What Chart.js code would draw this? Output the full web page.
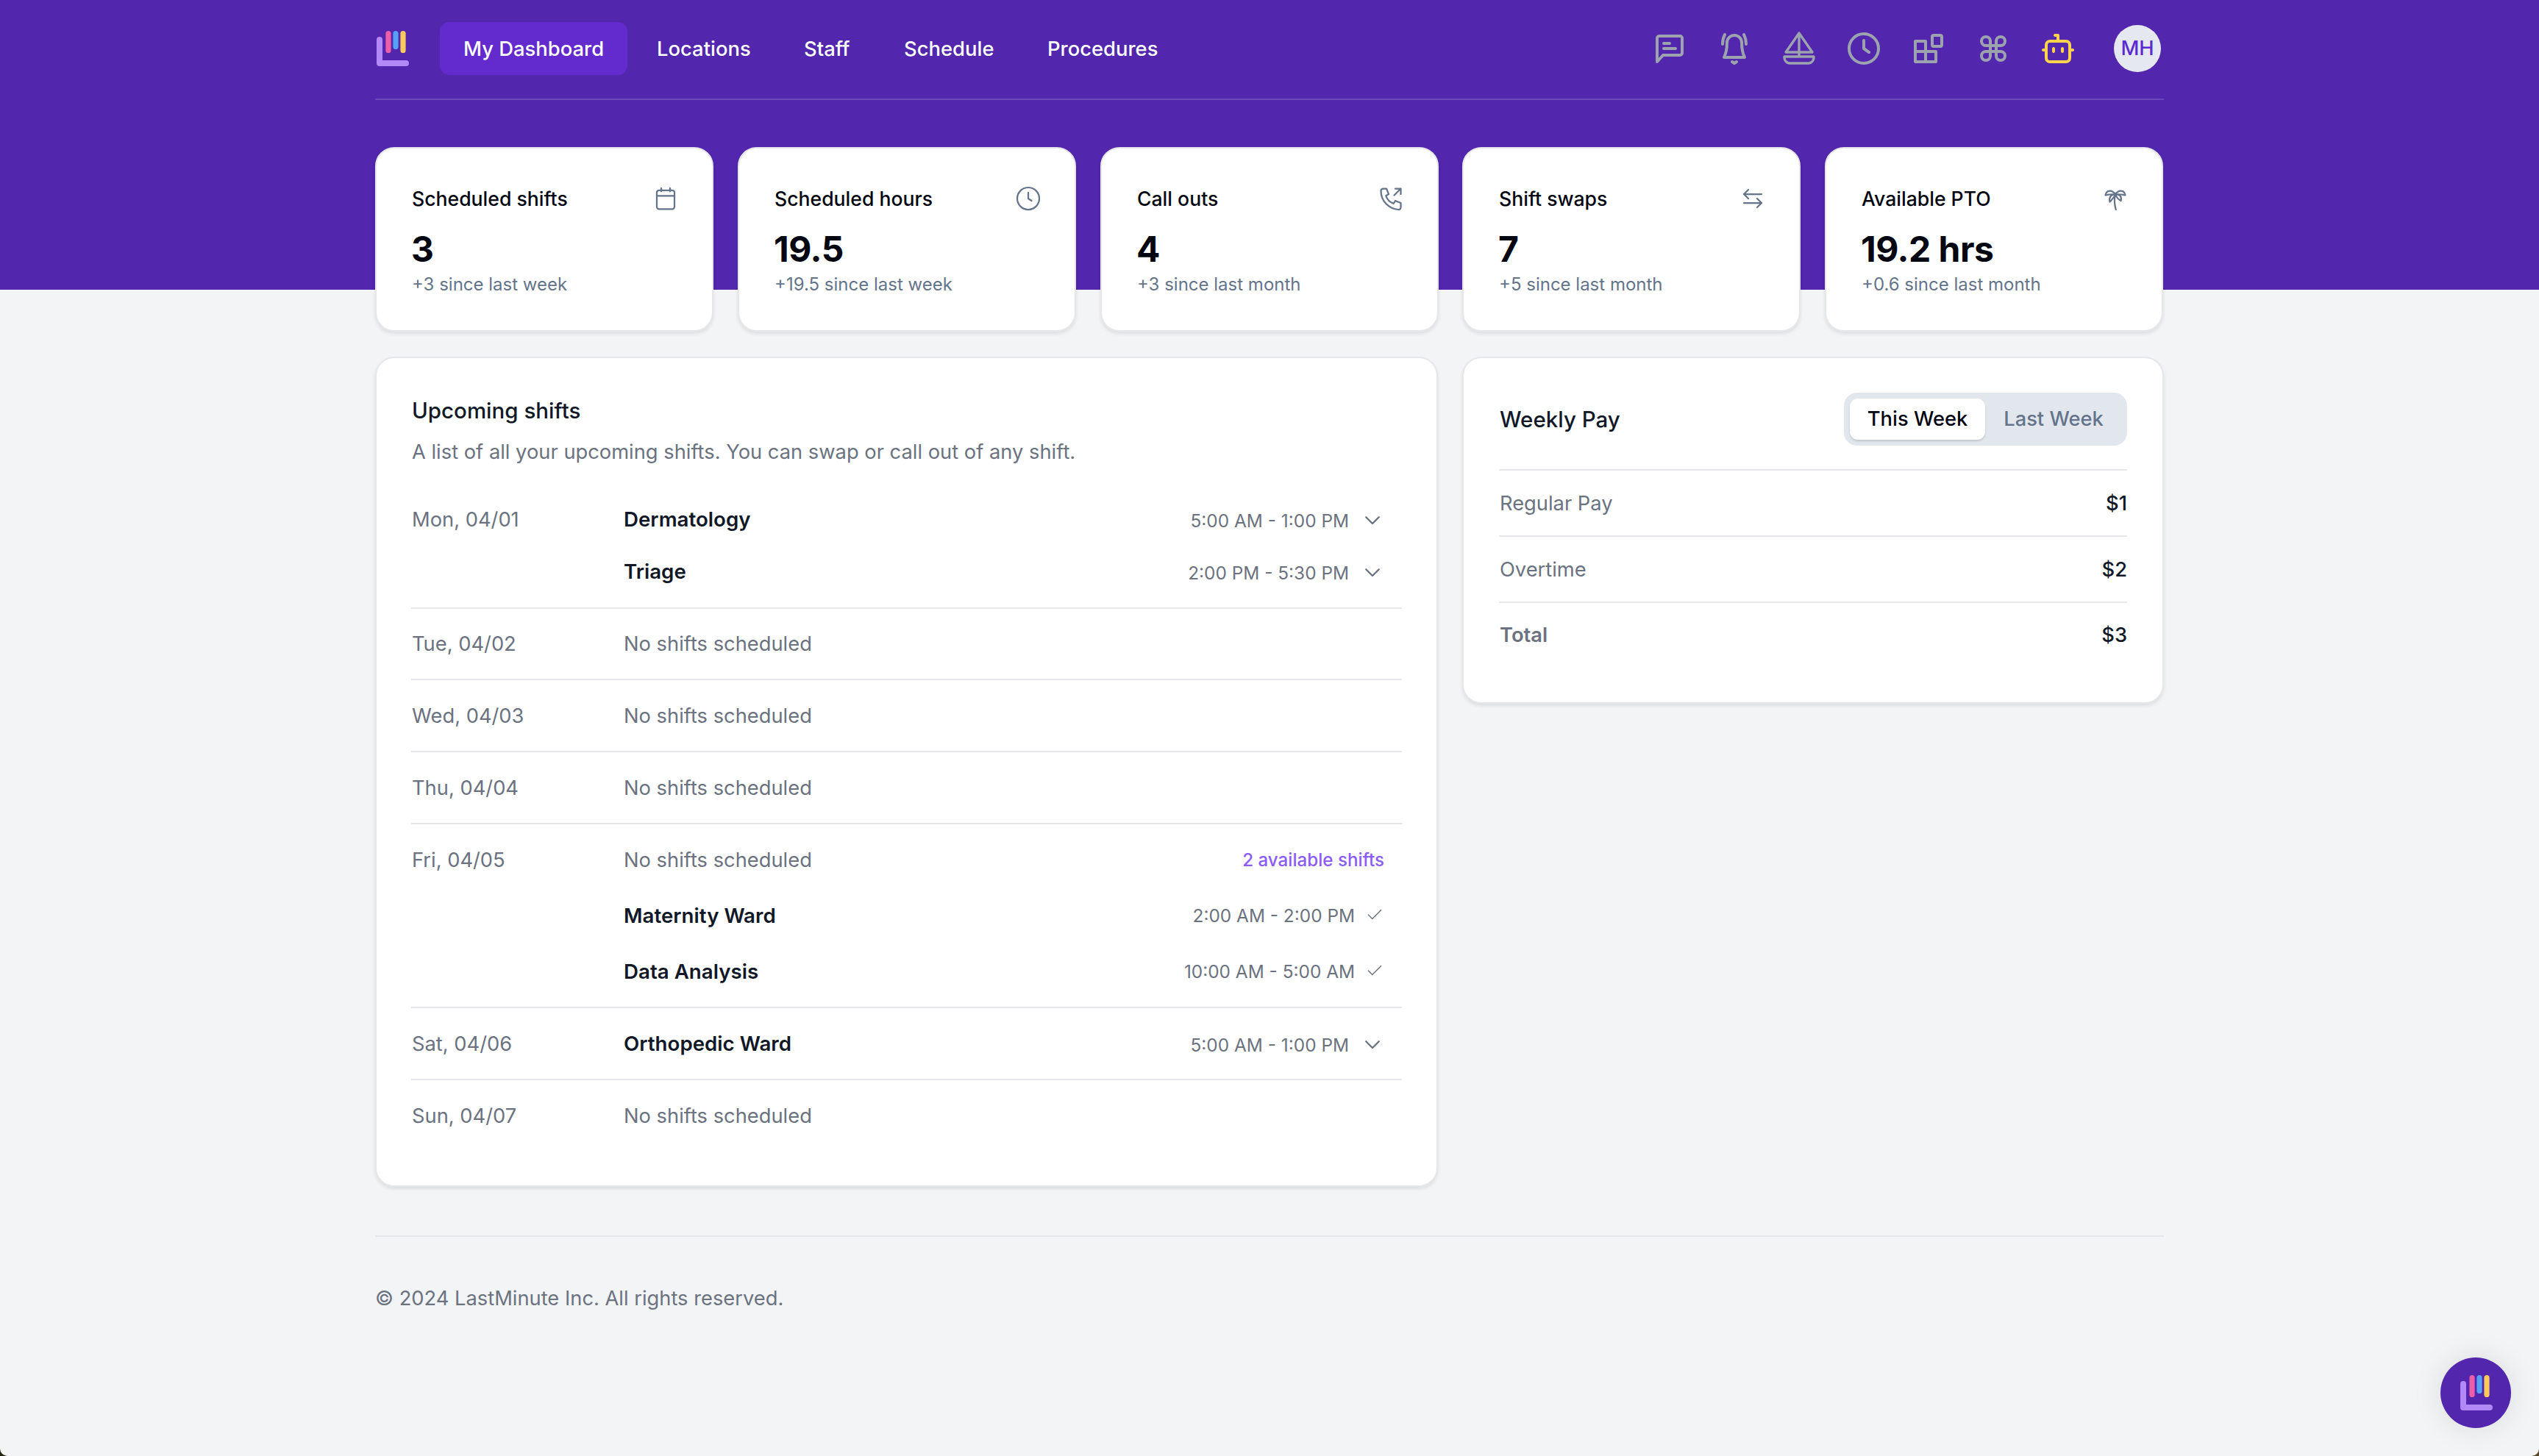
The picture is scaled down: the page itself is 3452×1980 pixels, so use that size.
<!DOCTYPE html>
<html>
<head>
<meta charset="utf-8">
<title>My Dashboard</title>
<script src="https://cdn.jsdelivr.net/npm/chart.js@4"></script>
<style>
  html, body { margin: 0; width: 3452px; height: 1980px; overflow: hidden; }
  body { font-family: Inter, sans-serif; font-size: 27.3px; color: #6b7280; background: linear-gradient(90deg, #20240a, #5a4520); }
  #page { position: relative; width: 3452px; height: 1980px; overflow: hidden; background: #f3f4f6; border-radius: 0 0 10px 10px; }
  #page > * { position: absolute; }
  .t { white-space: nowrap; line-height: 1; transform: translateY(-50%); }
  .box { box-sizing: border-box; background: #fff; border: 2px solid #e5e7eb; border-radius: 26px; box-shadow: 0 3px 5px rgba(0, 0, 0, .09); }
  .rule { height: 2px; background: #e5e7eb; }
  .nav { color: #fff; font-weight: 500; font-size: 27.4px; }
  .cardTitle { color: #030712; font-weight: 500; font-size: 26.6px; }
  .cardValue { color: #030712; font-weight: 700; font-size: 48px; letter-spacing: -.5px; }
  .cardSub { color: #64748b; font-size: 24px; }
  .head { color: #111827; font-weight: 500; font-size: 29.5px; }
  .name { color: #111827; font-weight: 600; font-size: 27.7px; }
  .time { font-size: 24.4px; }
  .link { color: #8b5cf6; font-size: 24.2px; font-weight: 500; }
  svg { display: block; fill: none; stroke-linecap: round; stroke-linejoin: round; }
</style>
</head>
<body>
<div id="page"></div>
<script>
// data
const navItems = ["My Dashboard", "Locations", "Staff", "Schedule", "Procedures"];
const cardTitles = ["Scheduled shifts", "Scheduled hours", "Call outs", "Shift swaps", "Available PTO"];
const cardValues = ["3", "19.5", "4", "7", "19.2 hrs"];
const cardChanges = ["+3 since last week", "+19.5 since last week", "+3 since last month", "+5 since last month", "+0.6 since last month"];
const dayLabels = ["Mon, 04/01", "Tue, 04/02", "Wed, 04/03", "Thu, 04/04", "Fri, 04/05", "Sat, 04/06", "Sun, 04/07"];
const shiftDays = ["Mon, 04/01", "Mon, 04/01", "Fri, 04/05", "Fri, 04/05", "Sat, 04/06"];
const shiftNames = ["Dermatology", "Triage", "Maternity Ward", "Data Analysis", "Orthopedic Ward"];
const shiftTimes = ["5:00 AM - 1:00 PM", "2:00 PM - 5:30 PM", "2:00 AM - 2:00 PM", "10:00 AM - 5:00 AM", "5:00 AM - 1:00 PM"];
const payLabels = ["Regular Pay", "Overtime", "Total"];
const payValues = [1, 2, 3];

// the three bars of the logo, the only plotted marks on the page
const logoBars = ["pink", "blue", "yellow"];
const logoBarLengths = [30, 25, 30];
const logoBarColors = ["#ec5ea8", "#56a0f5", "#fbc95c"];

const page = document.getElementById("page");

function text(str, x, y, cls, anchor) {
  const el = document.createElement("div");
  el.className = "t " + cls;
  el.textContent = str;
  el.style.top = y + "px";
  if (anchor === "right") el.style.right = (3452 - x) + "px";
  else el.style.left = x + "px";
  if (anchor === "center") el.style.transform = "translate(-50%,-50%)";
  page.appendChild(el);
  return el;
}

function rect(x, y, w, h, cls, css) {
  const el = document.createElement("div");
  el.className = cls || "";
  el.style.cssText = `left:${x}px;top:${y}px;width:${w}px;height:${h}px;` + (css || "");
  page.appendChild(el);
  return el;
}

function icon(paths, cx, cy, size, color, sw) {
  const el = document.createElement("div");
  el.style.cssText = `left:${cx - size / 2}px;top:${cy - size / 2}px;width:${size}px;height:${size}px;`;
  el.innerHTML = `<svg viewBox="0 0 24 24" width="${size}" height="${size}" stroke="${color}" stroke-width="${sw}">${paths}</svg>`;
  page.appendChild(el);
}

// logo: the L is plain svg, the bars are a small Chart.js bar chart
function logo(x, y) {
  const el = document.createElement("div");
  el.style.cssText = `left:${x}px;top:${y + 8}px;width:44px;height:40px;`;
  el.innerHTML = `<svg viewBox="0 0 44 40" width="44" height="40" stroke="#b388f9" stroke-width="8"><path d="M4 4V36H40"/></svg>`;
  page.appendChild(el);

  const canvas = document.createElement("canvas");
  canvas.style.cssText = `left:${x + 11}px;top:${y}px;`;
  canvas.width = 30;
  canvas.height = 30;
  page.appendChild(canvas);
  new Chart(canvas, {
    type: "bar",
    data: {
      labels: logoBars,
      datasets: [{
        data: logoBarLengths,
        backgroundColor: logoBarColors,
        borderRadius: 4,
        borderSkipped: false,
        barPercentage: 0.72,
        categoryPercentage: 1
      }]
    },
    options: {
      responsive: false,
      animation: false,
      plugins: { legend: { display: false }, tooltip: { enabled: false } },
      scales: {
        x: { display: false },
        y: { display: false, reverse: true, min: 0, max: 30 }
      }
    }
  });
}

// header
rect(0, 0, 3452, 394, "", "background:#5226ad;");
rect(510, 134, 2432, 2, "", "background:#6b47b9;");
rect(598, 30, 255, 72, "", "background:#632bcd;border-radius:13px;");
logo(512, 42);
const navX = [630, 893, 1093, 1229, 1424];
navItems.forEach((item, i) => text(item, navX[i], 67, "nav"));

const topIcons = [
  '<path d="M3.500 21V5a1.500 1.500 0 0 1 1.500-1.500h14A1.500 1.500 0 0 1 20.500 5v10a1.500 1.500 0 0 1-1.500 1.500H7.500zM8 8.500h4M8 12h8"/>',
  '<path d="M12 3a5 5 0 0 1 5 5c0 5 .5 7 2 10H5c1.500-3 2-5 2-10a5 5 0 0 1 5-5zM10.500 21l1.500 1 1.500-1M4 9c0-2.500.5-4.500 1.500-6.500M20 9c0-2.500-.5-4.500-1.500-6.500"/>',
  '<path d="M12 1.500V17M12 1.500 21 14.500H3zM2 17.500h20v1a4 4 0 0 1-3.500 3.500h-13A4 4 0 0 1 2 18.500z" stroke-width="1.700"/>',
  '<circle cx="12" cy="12" r="10"/><path d="M12 6.500V12l3.500 2.500"/>',
  '<path d="M3 7h7v14H3zM3 14h14v7h-7M10 7v14"/><rect x="14.500" y="3" width="6.500" height="7.500" rx="1"/>',
  '<path d="M7 10a3 3 0 1 1 3-3v10a3 3 0 1 1-3-3h10a3 3 0 1 1-3 3V7a3 3 0 1 1 3 3H7"/>',
  '<rect x="4" y="7" width="16" height="14" rx="2.500"/><path d="M12 7V3H10M9 12v2M15 12v2M2 13h2M20 13h2"/>'
];
const topIconX = [2270, 2358, 2446, 2534, 2622, 2710, 2798];
topIcons.forEach((paths, i) => icon(paths, topIconX[i], 66, 48, i === 6 ? "#fcd34d" : "#9ca3af", 2));
rect(2874, 34, 64, 64, "", "background:#e5e7f1;border-radius:50%;");
text("MH", 2906, 66, "", "center").style.cssText += "color:#5b2bd0;font-weight:500;";

// stat cards
const cardIcons = [
  '<rect x="4" y="4.500" width="16" height="17" rx="2"/><path d="M4 9.500h16M8 2.500v3M16 2.500v3"/>',
  '<circle cx="12" cy="12" r="10"/><path d="M12 6.500V12l3 2"/>',
  '<path d="M5 3h3l2 5-2.500 1.500a11 11 0 0 0 7 7L16 14l5 2v4a2 2 0 0 1-2 2A17 17 0 0 1 3 5a2 2 0 0 1 2-2zM15 9l6-6M16 3h5v5"/>',
  '<path d="M20 8H4M8 4 4 8l4 4M4 16h16M16 12l4 4-4 4"/>',
  '<path d="M12 8c-1 4-1 9 .5 14M12 8C9 4 4 4 3 9c3-1 6-1 9-1zM12 8c3-4 8-4 9 1-3-1-6-1-9-1zM12 8c-4 0-6 3-5 7 2-2 4-4 5-7zM12 8c4 0 6 2 5 6-2-1-4-3-5-6z"/>'
];
const cardX = [510, 1003, 1496, 1988, 2481];
cardTitles.forEach((title, i) => {
  rect(cardX[i], 200, 460, 251, "box");
  text(title, cardX[i] + 50, 270, "cardTitle");
  icon(cardIcons[i], cardX[i] + 395, 270, 36, "#64748b", 1.500);
  text(cardValues[i], cardX[i] + 49, 339, "cardValue");
  text(cardChanges[i], cardX[i] + 50, 387, "cardSub");
});

// upcoming shifts
rect(510, 485, 1445, 1129, "box");
text("Upcoming shifts", 560, 559, "head");
text("A list of all your upcoming shifts. You can swap or call out of any shift.", 560, 615, "");

const dayY = [707, 876, 974, 1072, 1170, 1420, 1518];
const shiftY = [707, 778, 1246, 1322, 1420];
const dayRuleY = [826, 923, 1021, 1119, 1369, 1467];
dayLabels.forEach((day, i) => {
  text(day, 560, dayY[i], "");
  if (!shiftDays.includes(day) || day === "Fri, 04/05") text("No shifts scheduled", 848, dayY[i], "");
});
dayRuleY.forEach(y => rect(559, y, 1347, 2, "rule"));
shiftNames.forEach((name, i) => {
  const offered = shiftDays[i] === "Fri, 04/05";
  text(name, 848, shiftY[i], "name");
  text(shiftTimes[i], offered ? 1842 : 1834, offered ? shiftY[i] - 1 : shiftY[i] + 1, "time", "right");
  if (offered) icon('<path d="M4 13l5 5L20 7"/>', 1869, shiftY[i] - 3, 26, "#6b7280", 1.300);
  else icon('<path d="M5 9l7 7 7-7"/>', 1866, shiftY[i], 30, "#6b7280", 1.900);
});
text("2 available shifts", 1882, 1170, "link", "right");

// weekly pay
rect(1988, 485, 954, 472, "box");
text("Weekly Pay", 2039, 571, "head");
rect(2507, 534, 385, 72, "", "background:#e2e7ee;border-radius:18px;");
rect(2515, 542, 184, 56, "", "background:#fff;border-radius:11px;box-shadow:0 2px 3px rgba(0,0,0,.14);");
text("This Week", 2607, 570, "", "center").style.cssText += "color:#030712;font-weight:500;";
text("Last Week", 2792, 570, "", "center").style.cssText += "color:#64748b;font-weight:500;";
const payRowY = [685, 775, 864];
const payRuleY = [638, 728, 818];
payRuleY.forEach(y => rect(2038, y, 854, 2, "rule"));
payLabels.forEach((label, i) => {
  const el = text(label, 2039, payRowY[i], "");
  if (label === "Total") el.style.fontWeight = 600;
  text("$" + payValues[i], 2892, payRowY[i], "", "right").style.cssText += "color:#111827;font-weight:500;";
});

// footer
rect(510, 1680, 2432, 2, "rule");
text("© 2024 LastMinute Inc. All rights reserved.", 510, 1766, "");

// round button
rect(3318, 1846, 96, 96, "", "background:#5226ad;border-radius:50%;box-shadow:0 0 40px rgba(0,0,0,.1);");
logo(3345, 1870);
</script>
</body>
</html>
